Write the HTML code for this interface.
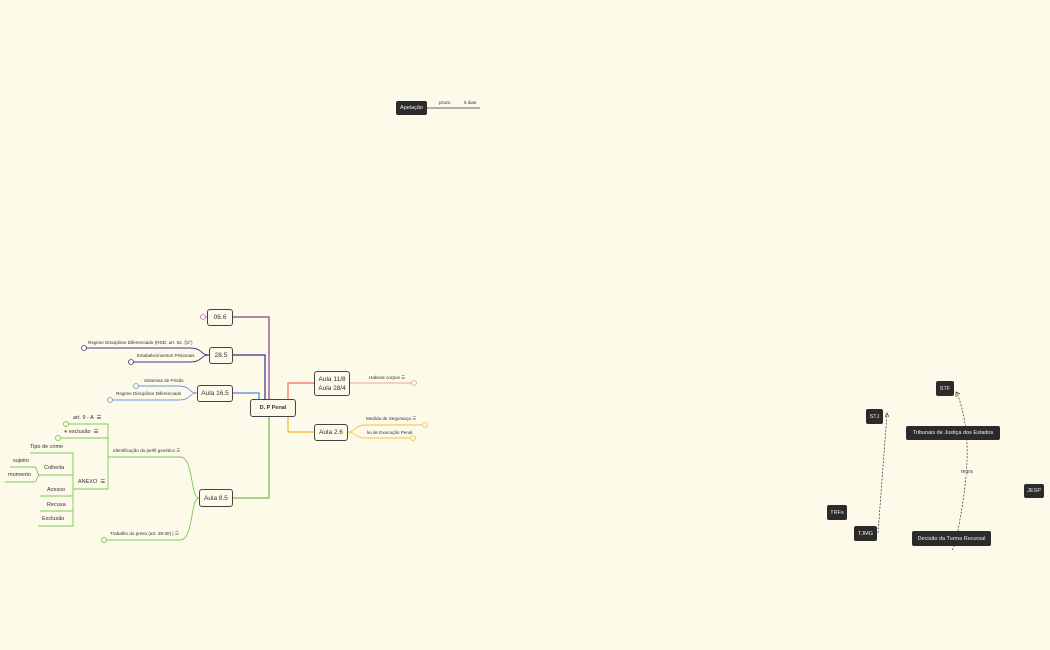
<!DOCTYPE html>
<html><head><meta charset="utf-8"><style>
html,body{margin:0;padding:0;width:1050px;height:650px;overflow:hidden;background:#fefae9;font-family:"Liberation Sans",sans-serif;}
.a{position:absolute;white-space:nowrap;color:#333;}
.n{position:absolute;box-sizing:border-box;border:1.3px solid #444;border-radius:3px;background:#fefae9;font-size:6.5px;color:#333;display:flex;align-items:center;justify-content:center;text-align:center;line-height:9px;}
.d{position:absolute;box-sizing:border-box;background:#2b2b2b;border-radius:2px;color:#eee;font-size:5.5px;display:flex;align-items:center;justify-content:center;}
.s{font-size:4.6px;}
.m{font-size:5.5px;}
</style></head><body>
<svg width="1050" height="650" style="position:absolute;left:0;top:0" fill="none">
<!-- apelacao -->
<line x1="427" y1="108" x2="480" y2="108" stroke="#333" stroke-width="0.8"/>
<!-- central connectors -->
<path d="M233 317 H269 V399" stroke="#8a3a8a" stroke-width="1.2"/>
<path d="M233 355 H265 V399" stroke="#303080" stroke-width="1.2"/>
<path d="M233 393 H259 V399" stroke="#4a86d8" stroke-width="1.2"/>
<path d="M233 498 H269 V416" stroke="#6cc04a" stroke-width="1.2"/>
<path d="M296 408 H288 V383 H314" stroke="#f07060" stroke-width="1.2"/>
<path d="M288 416 V432 H314" stroke="#f5b820" stroke-width="1.2"/>
<!-- right branches -->
<path d="M350 383 H412" stroke="#f5a090" stroke-width="0.9"/>
<circle cx="414" cy="383" r="2.5" stroke="#f5a090" stroke-width="0.8"/>
<path d="M348 432 C356 432 354 425 366 425 H423 M348 432 C356 432 354 438 366 438 H411" stroke="#f5c040" stroke-width="0.9"/>
<circle cx="425" cy="425" r="2.5" stroke="#f5c040" stroke-width="0.8"/>
<circle cx="413" cy="438" r="2.5" stroke="#f5c040" stroke-width="0.8"/>
<!-- 06.6 -->
<circle cx="203" cy="317" r="2.5" stroke="#c070c0" stroke-width="0.8"/>
<line x1="205" y1="317" x2="207" y2="317" stroke="#c070c0"/>
<!-- 28.5 -->
<path d="M209 355 C200 355 203 348 190 348 H86 M209 355 C200 355 203 362 190 362 H133" stroke="#503090" stroke-width="0.9"/>
<circle cx="84" cy="348" r="2.5" stroke="#503090" stroke-width="0.8"/>
<circle cx="131" cy="362" r="2.5" stroke="#503090" stroke-width="0.8"/>
<!-- 16.5 -->
<path d="M197 393 C188 393 192 386 178 386 H138 M197 393 C188 393 192 400 178 400 H112" stroke="#6a9ae0" stroke-width="0.9"/>
<circle cx="136" cy="386" r="2.5" stroke="#6a9ae0" stroke-width="0.8"/>
<circle cx="110" cy="400" r="2.5" stroke="#6a9ae0" stroke-width="0.8"/>
<!-- 8.5 -->
<g stroke="#7cc85a" stroke-width="0.9">
<path d="M199 498 C190 498 194 457 180 457 H108 M199 498 C190 498 194 540 180 540 H106"/>
<path d="M108 457 V424 H68 M108 438 H60 M108 457 V489 H73"/>
<path d="M73 489 V453 H30 M73 475 H40 M73 489 V526 H38 M40 496 H73 M40 511 H73"/>
<path d="M40 475 C36 475 38 467 34 467 H10 M40 475 C36 475 38 482 34 482 H5"/>
<circle cx="66" cy="424" r="2.5"/><circle cx="58" cy="438" r="2.5"/><circle cx="104" cy="540" r="2.5"/>
</g>
<!-- right dashed -->
<path d="M878 533 L887 414" stroke="#333" stroke-width="0.7" stroke-dasharray="2,1.5"/>
<path d="M885 417 L887 413 L889 417" stroke="#333" stroke-width="0.7"/>
<path d="M958 531 C965 490 975 440 957 393 M952 550 L955 545" stroke="#333" stroke-width="0.7" stroke-dasharray="2,1.5"/>
<path d="M956 397 L956 392 L960 394" stroke="#333" stroke-width="0.7"/>
</svg>

<div class="d" style="left:396px;top:101px;width:31px;height:14px;">Apelação</div>
<div class="a s" style="left:439px;top:100px;">prazo</div>
<div class="a s" style="left:464px;top:100px;">5 dias</div>

<div class="n" style="left:250px;top:399px;width:46px;height:18px;font-weight:bold;font-size:5.5px">D. P Penal</div>
<div class="n" style="left:207px;top:309px;width:26px;height:17px;">06.6</div>
<div class="n" style="left:209px;top:347px;width:24px;height:17px;">28.5</div>
<div class="n" style="left:197px;top:385px;width:36px;height:17px;">Aula 16.5</div>
<div class="n" style="left:199px;top:489px;width:34px;height:18px;">Aula 8.5</div>
<div class="n" style="left:314px;top:371px;width:36px;height:25px;">Aula 11/8<br>Aula 28/4</div>
<div class="n" style="left:314px;top:424px;width:34px;height:17px;">Aula 2.6</div>

<div class="a s" style="left:369px;top:375px;">Habeas corpus ☰</div>
<div class="a s" style="left:366px;top:416px;">Medida de Segurança ☰</div>
<div class="a s" style="left:367px;top:430px;">lei de Execução Penal</div>
<div class="a s" style="left:88px;top:340px;">Regime Disciplinar Diferenciado (RDD, art. 52, §1º)</div>
<div class="a s" style="left:137px;top:353px;">Estabelecimentos Prisionais</div>
<div class="a s" style="left:144px;top:378px;">Sistemas de Prisão</div>
<div class="a s" style="left:116px;top:391px;">Regime Disciplinar Diferenciado</div>
<div class="a s" style="left:113px;top:448px;">Identificação do perfil genético ☰</div>
<div class="a s" style="left:110px;top:531px;">Trabalho do preso (art. 28-30) | ☰</div>
<div class="a m" style="left:73px;top:415px;">art. 9 - A &nbsp;☰</div>
<div class="a m" style="left:64px;top:429px;"><span style="color:#e33">●</span> exclusão &nbsp;☰</div>
<div class="a m" style="left:78px;top:479px;">ANEXO &nbsp;☰</div>
<div class="a m" style="left:30px;top:444px;">Tipo de crime</div>
<div class="a m" style="left:44px;top:465px;">Colheita</div>
<div class="a m" style="left:47px;top:487px;">Acesso</div>
<div class="a m" style="left:47px;top:502px;">Recusa</div>
<div class="a m" style="left:42px;top:516px;">Exclusão</div>
<div class="a m" style="left:13px;top:458px;">sujeito</div>
<div class="a m" style="left:8px;top:472px;">momento</div>

<div class="d" style="left:936px;top:381px;width:18px;height:15px;">STF</div>
<div class="d" style="left:866px;top:409px;width:17px;height:15px;">STJ</div>
<div class="d" style="left:906px;top:426px;width:94px;height:14px;">Tribunais de Justiça dos Estados</div>
<div class="d" style="left:1024px;top:484px;width:20px;height:14px;">JESP</div>
<div class="d" style="left:827px;top:505px;width:20px;height:15px;">TRFs</div>
<div class="d" style="left:854px;top:526px;width:23px;height:15px;">TJMG</div>
<div class="d" style="left:912px;top:531px;width:79px;height:15px;">Decisão da Turma Recursal</div>
<div class="a" style="left:961px;top:469px;font-size:5px;background:#fefae9;">regra</div>
</body></html>
